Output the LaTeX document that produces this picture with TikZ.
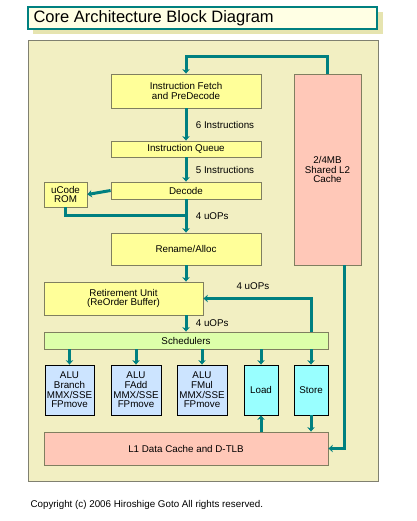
\documentclass[tikz,border=0pt]{standalone}
\usepackage{fontspec}
\setmainfont{Liberation Sans}
\usetikzlibrary{arrows.meta}

\definecolor{panelfill}{HTML}{F2EFC2}
\definecolor{panelline}{HTML}{808070}
\definecolor{titlefill}{HTML}{FFFFE4}
\definecolor{titleshadow}{HTML}{E6E4B0}
\definecolor{unitfill}{HTML}{FFFF99}
\definecolor{unitline}{HTML}{807F60}
\definecolor{cachefill}{HTML}{FFC8B8}
\definecolor{schedfill}{HTML}{DDFFAA}
\definecolor{alufill}{HTML}{CCE4FF}
\definecolor{memfill}{HTML}{99FFFF}

\begin{document}
\begin{tikzpicture}[x=1pt,y=-1pt,
    every node/.style={font=\fontsize{9.8}{9.6}\selectfont},
    wh/.style 2 args={minimum width=#1pt,minimum height=#2pt},
    unit/.style={draw=unitline,line width=0.8pt,fill=unitfill,align=center,inner sep=0pt},
    cache/.style={unit,fill=cachefill},
    exec/.style={draw=black,line width=0.8pt,fill=alufill,align=center,inner sep=0pt},
    bus/.style={draw=teal,line width=3pt},
    busarrow/.style={bus,-{Stealth[length=4.5pt,width=7.5pt]}}]
        \useasboundingbox (0,0) rectangle (416,521);

        % Title
        \fill[titleshadow] (33,12) rectangle (383,34);
        \draw[teal,line width=1.2pt,fill=titlefill] (28,7) rectangle (377,29);
        \node[anchor=west,font=\fontsize{16.5}{18}\selectfont] (title) at (30,18) {Core Architecture Block Diagram};

        % Panel
        \draw[panelline,line width=0.8pt,fill=panelfill] (28,40) rectangle (378,481);

        % Front end
        \node[unit,wh={150}{34}] (fetch) at (186,91) {Instruction Fetch\\and PreDecode};
        \node[unit,wh={150}{16}] (queue) at (186,149) {Instruction Queue};
        \node[unit,wh={150}{17}] (decode) at (186,190.5) {Decode};
        \node[unit,wh={43}{25}] (ucode) at (65.5,194.5) {uCode\\ROM};
        \node[unit,wh={150}{32}] (rename) at (186,249) {Rename/Alloc};
        \node[unit,wh={159}{33}] (rob) at (123.5,298.5) {Retirement Unit\\(ReOrder Buffer)};
        \node[unit,fill=schedfill,wh={284}{17}] (sched) at (186,340.5) {Schedulers};

        % Execution units
        \node[exec,wh={49}{50}] (alub) at (69.5,390) {ALU\\Branch\\MMX/SSE\\FPmove};
        \node[exec,wh={50}{50}] (aluadd) at (136,390) {ALU\\FAdd\\MMX/SSE\\FPmove};
        \node[exec,wh={50}{50}] (alumul) at (202,390) {ALU\\FMul\\MMX/SSE\\FPmove};
        \node[exec,fill=memfill,wh={34}{50}] (load) at (261,390) {Load};
        \node[exec,fill=memfill,wh={34}{50}] (store) at (311,390) {Store};

        % Caches
        \node[cache,wh={284}{33}] (l1) at (186,448.5) {L1 Data Cache and D-TLB};
        \node[cache,wh={67}{191}] (l2) at (327.5,169.5) {2/4MB\\Shared L2\\Cache};
        \coordinate (bustop) at (186,57);
        \coordinate (l2out) at (344,265);
        \coordinate (romjoin) at (186,215);

        % Pipeline flow
        \draw[busarrow] (l2.north) |- (bustop) -- (fetch.north);
        \draw[busarrow] (fetch) -- (queue) node[midway,right=5pt] {6 Instructions};
        \draw[busarrow] (queue) -- (decode) node[midway,right=5pt] {5 Instructions};
        \draw[busarrow] (decode) -- (rename) node[midway,right=5pt] {4 uOPs};
        \draw[busarrow] (decode.west) -- (ucode.east);
        \draw[bus] (ucode.south) |- (romjoin);
        \draw[busarrow] (rename.south) -- (rename.south |- rob.north);
        \draw[busarrow] (rename.south |- rob.south) -- (rename.south |- sched.north) node[midway,right=5pt] {4 uOPs};
        \draw[busarrow] (store.north |- sched.north) |- (rob.east) node[pos=0.77,above=4pt] {4 uOPs};

        % Issue ports
        \foreach \u in {alub,aluadd,alumul,load,store}
            \draw[busarrow] (sched.south -| \u.north) -- (\u.north);
        \draw[busarrow] (l1.north -| load.south) -- (load.south);
        \draw[busarrow] (store.south) -- (store.south |- l1.north);
        \draw[busarrow] (l2out) |- (l1.east);

        % Footer
        \node[anchor=west] (copy) at (27,505) {Copyright (c) 2006 Hiroshige Goto All rights reserved.};
\end{tikzpicture}
\end{document}
